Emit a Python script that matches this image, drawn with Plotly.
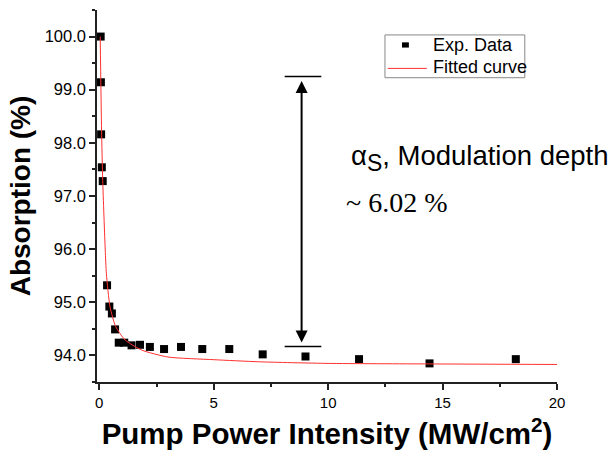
import plotly.graph_objects as go

# Measured absorption versus pump intensity
intensity = [0.06, 0.07, 0.08, 0.11, 0.15, 0.34, 0.44, 0.55, 0.69, 0.85, 1.09,
             1.41, 1.78, 2.21, 2.83, 3.57, 4.50, 5.68, 7.14, 9.01, 11.35, 14.43, 18.20]
absorption = [100.00, 99.14, 98.16, 97.54, 97.28, 95.32, 94.92, 94.79, 94.49, 94.24, 94.24,
              94.19, 94.20, 94.16, 94.12, 94.16, 94.12, 94.12, 94.02, 93.98, 93.93, 93.85, 93.93]

# Saturable-absorption fit, sampled along the curve
fit_x = [0.04, 0.10, 0.15, 0.26, 0.31, 0.47, 0.72, 1.13, 1.86, 3.0, 5.0, 7.0, 10.0, 14.4, 20.0]
fit_y = [100.00, 98.23, 97.29, 95.98, 95.54, 94.91, 94.54, 94.29, 94.10, 93.97, 93.92,
         93.88, 93.85, 93.84, 93.83]

x_ticks = [0, 5, 10, 15, 20]
y_ticks = [94.0, 95.0, 96.0, 97.0, 98.0, 99.0, 100.0]

SANS = "Liberation Sans, Arial, sans-serif"
SERIF = "Liberation Serif, Times New Roman, serif"
FIT_RED = "#ff3030"

fig = go.Figure()
fig.add_trace(go.Scatter(
    x=intensity, y=absorption, mode="markers", name="Exp. Data", showlegend=False,
    marker=dict(symbol="square", size=8, color="black"),
))
fig.add_trace(go.Scatter(
    x=fit_x, y=fit_y, mode="lines", name="Fitted curve", showlegend=False,
    line=dict(color=FIT_RED, width=1, shape="spline", smoothing=0.6),
))

axis_common = dict(
    showline=True, linecolor="#222", linewidth=1.5, mirror=False,
    ticks="outside", ticklen=6, tickwidth=1.5, tickcolor="#222",
    showgrid=False, zeroline=False,
)
minor_common = dict(ticks="outside", ticklen=3, tickwidth=1.5, tickcolor="#222", showgrid=False)

fig.update_xaxes(
    range=[-0.1, 20], tickvals=x_ticks,
    tickfont=dict(family=SANS, size=15, color="black"),
    minor=dict(dtick=2.5, **minor_common),
    title=dict(text="Pump Power Intensity (MW/cm<sup>2</sup>)",
               font=dict(family=SANS, size=29.5, color="black", weight="bold"), standoff=14),
    **axis_common,
)
fig.update_yaxes(
    range=[93.5, 100.5], tickvals=y_ticks, tickformat=".1f",
    tickfont=dict(family=SANS, size=16.5, color="black"),
    minor=dict(dtick=0.5, **minor_common),
    title=dict(text="Absorption (%)",
               font=dict(family=SANS, size=28, color="black", weight="bold"), standoff=6),
    **axis_common,
)

# Modulation-depth marker: two bars joined by a double-headed arrow
for yb in (99.25, 94.17):
    fig.add_shape(type="line", xref="x", yref="y", x0=8.1, x1=9.7, y0=yb, y1=yb,
                  line=dict(color="black", width=1.5))
fig.add_annotation(
    x=8.84, y=94.17, ax=8.84, ay=99.25, xref="x", yref="y", axref="x", ayref="y",
    text="", showarrow=True, arrowhead=2, startarrowhead=2, arrowside="end+start",
    arrowsize=1.2, arrowwidth=2, arrowcolor="black", standoff=4, startstandoff=3,
)
fig.add_annotation(
    x=10.9, y=97.72, xref="x", yref="y", xanchor="left", yanchor="middle",
    text="α<sub><span style='font-size:23px'>S</span></sub>, Modulation depth", showarrow=False,
    font=dict(family=SANS, size=27.5, color="black"),
)
fig.add_annotation(
    x=10.7, y=96.88, xref="x", yref="y", xanchor="left", yanchor="middle",
    text="~ 6.02 %", showarrow=False,
    font=dict(family=SERIF, size=28, color="black"),
)

# Legend box drawn in paper coordinates
fig.add_shape(type="rect", xref="paper", yref="paper", x0=0.626, x1=0.930, y0=0.818, y1=0.933,
              line=dict(color="#888", width=1), fillcolor="white", layer="above")
fig.add_shape(type="rect", xref="paper", yref="paper", x0=0.663, x1=0.678, y0=0.899, y1=0.913,
              line=dict(color="black", width=0), fillcolor="black", layer="above")
fig.add_shape(type="line", xref="paper", yref="paper", x0=0.632, x1=0.717, y0=0.843, y1=0.843,
              line=dict(color=FIT_RED, width=1), layer="above")
for label, ly in (("Exp. Data", 0.905), ("Fitted curve", 0.846)):
    fig.add_annotation(x=0.726, y=ly, xref="paper", yref="paper", xanchor="left", yanchor="middle",
                       text=label, showarrow=False,
                       font=dict(family=SANS, size=18, color="black"))

fig.update_layout(
    width=611, height=462,
    margin=dict(l=97, r=54, t=10, b=80),
    plot_bgcolor="white", paper_bgcolor="white",
    showlegend=False,
)

fig.write_html("out.html")
